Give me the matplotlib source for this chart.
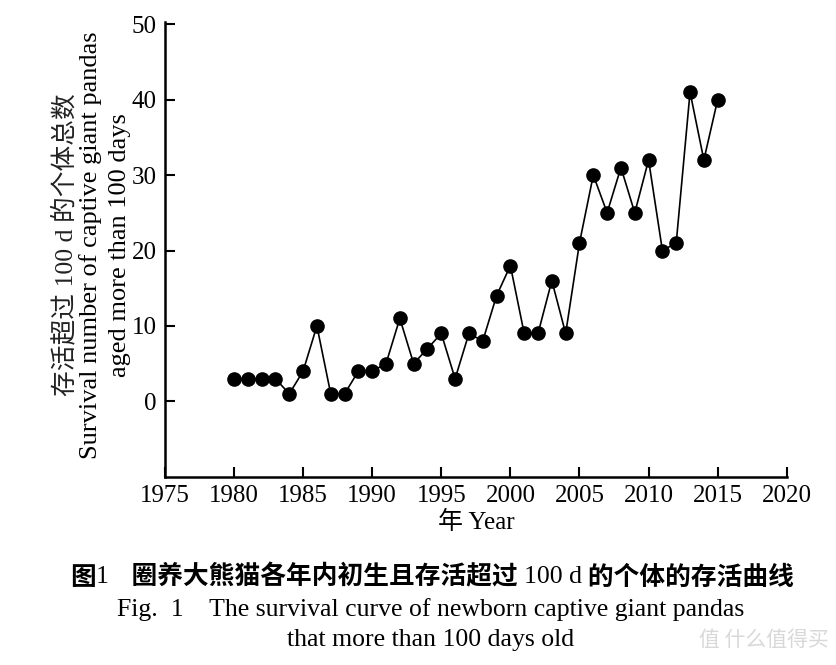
import matplotlib
matplotlib.use("Agg")
import matplotlib.pyplot as plt

plt.rcParams['font.family'] = ['Liberation Serif', 'Noto Sans CJK SC']

years = [1980, 1981, 1982, 1983, 1984, 1985, 1986, 1987, 1988, 1989,
         1990, 1991, 1992, 1993, 1994, 1995, 1996, 1997, 1998, 1999,
         2000, 2001, 2002, 2003, 2004, 2005, 2006, 2007, 2008, 2009,
         2010, 2011, 2012, 2013, 2014, 2015]
survivors = [3, 3, 3, 3, 1, 4, 10, 1, 1, 4,
             4, 5, 11, 5, 7, 9, 3, 9, 8, 14,
             18, 9, 9, 16, 9, 21, 30, 25, 31, 25,
             32, 20, 21, 41, 32, 40]
x_ticks = [1975, 1980, 1985, 1990, 1995, 2000, 2005, 2010, 2015, 2020]
y_ticks = [0, 10, 20, 30, 40, 50]

fig = plt.figure(figsize=(8.37, 6.65), dpi=100)
ax = fig.add_axes([0.197, 0.283, 0.743, 0.684])

ax.plot(years, survivors, color='black', linewidth=1.2,
        marker='o', markersize=9.5, markerfacecolor='black', markeredgecolor='black')

ax.set_xlim(1975, 2020)
ax.set_ylim(-10, 50.3)
ax.set_xticks(x_ticks)
ax.set_yticks(y_ticks)
ax.tick_params(direction='in', length=7, width=1.5, labelsize=18, pad=6)
for side in ['top', 'right']:
    ax.spines[side].set_visible(False)
for side in ['left', 'bottom']:
    ax.spines[side].set_linewidth(1.8)

# axis titles
ax.set_xlabel('年 Year', fontsize=18, labelpad=3)
fig.text(0.078, 0.632, '存活超过 100 d 的个体总数', rotation=90, fontsize=18.5,
         ha='center', va='center', color='#222222')
fig.text(0.108, 0.632, 'Survival number of captive giant pandas', rotation=90,
         fontsize=19, ha='center', va='center')
fig.text(0.143, 0.632, 'aged more than 100 days', rotation=90,
         fontsize=19, ha='center', va='center')

# caption line 1: bold CJK, numbers in regular serif
parts = [('图', 'bold'),
         ('1', 'normal'),
         ('    圈养大熊猫各年内初生且存活超过 ', 'bold'),
         ('100 d', 'normal'),
         (' 的个体的存活曲线', 'bold')]
texts = []
for s, w in parts:
    fam = ['Noto Sans CJK SC'] if w == 'bold' else ['Liberation Serif']
    texts.append(fig.text(0, 0.132, s, fontsize=18.5, fontweight=w, family=fam,
                          ha='left', va='center'))
fig.canvas.draw()
r = fig.canvas.get_renderer()
widths = [t.get_window_extent(r).width / fig.bbox.width for t in texts]
x = 0.516 - sum(widths) / 2
for t, w in zip(texts, widths):
    t.set_x(x)
    x += w

fig.text(0.515, 0.084, 'Fig.  1    The survival curve of newborn captive giant pandas',
         fontsize=18.5, ha='center', va='center')
fig.text(0.515, 0.038, 'that more than 100 days old',
         fontsize=18.5, ha='center', va='center')

# watermark
fig.text(0.99, 0.038, '值 什么值得买', fontsize=15, color='#d8d8d8',
         ha='right', va='center', family='Noto Sans CJK SC')

fig.savefig('out.png', dpi=100)
